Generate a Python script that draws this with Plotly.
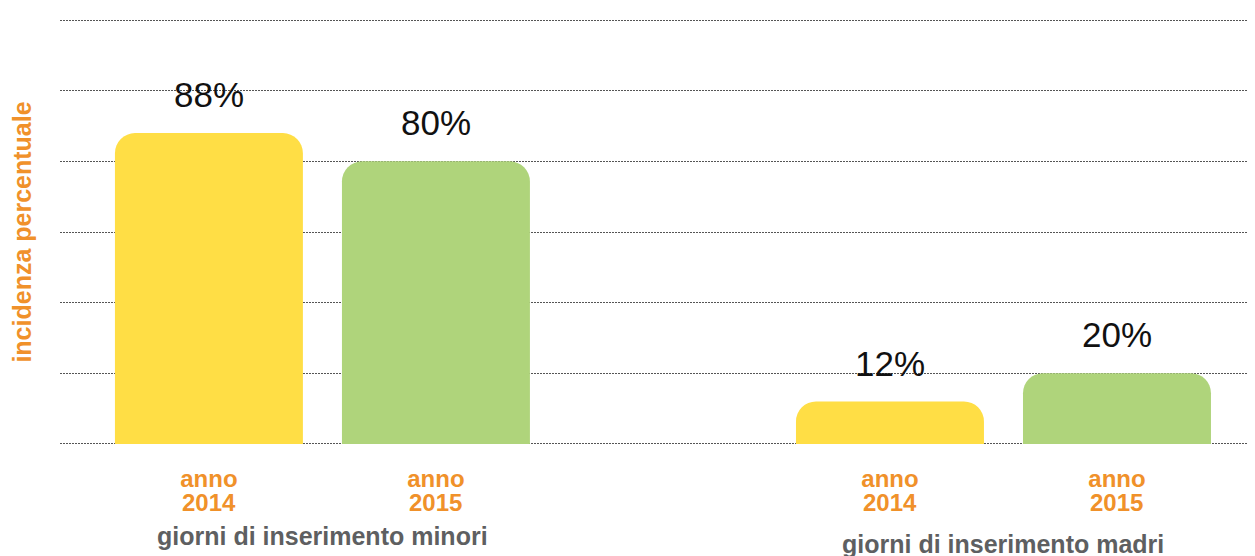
import plotly.graph_objects as go

# ---- data ----
groups = ["giorni di inserimento minori", "giorni di inserimento madri"]
years = ["2014", "2015"]
minori_values = [88, 80]
madri_values = [12, 20]
value_labels_minori = ["88%", "80%"]
value_labels_madri = ["12%", "20%"]
y_ticks = [0, 20, 40, 60, 80, 100, 120]

year_colors = {"2014": "#FFDE45", "2015": "#AFD47B"}
ORANGE = "#F0912A"
GREY = "#5E5F61"
FONT = "Liberation Sans, Arial, sans-serif"

# categories: two bars per group with an empty spacer slot between the groups
cats, vals, cols, labels, cat_year = [], [], [], [], []
for gi, (g, gv, gl) in enumerate(zip(groups, [minori_values, madri_values],
                                     [value_labels_minori, value_labels_madri])):
    if gi > 0:
        cats.append(" ")
        vals.append(None)
        cols.append("rgba(0,0,0,0)")
        labels.append("")
        cat_year.append("")
    for y, v, l in zip(years, gv, gl):
        cats.append(f"{g} {y}")
        vals.append(v)
        cols.append(year_colors[y])
        labels.append(l)
        cat_year.append(y)

tickvals = [c for c in cats if c.strip()]
ticktext = ["<b>anno</b>" for _ in tickvals]

fig = go.Figure()
fig.add_trace(go.Bar(
    x=cats, y=vals, marker=dict(color=cols, line=dict(width=0)),
    hoverinfo="skip", showlegend=False,
))

# value labels above bars
for c, v, l in zip(cats, vals, labels):
    if v is None:
        continue
    fig.add_annotation(x=c, y=v, text=l, showarrow=False, xref="x", yref="y",
                       yanchor="bottom", yshift=17,
                       font=dict(family=FONT, size=35, color="#111111"))

# year labels (second line of the category label)
for c, y in zip(cats, cat_year):
    if not y:
        continue
    fig.add_annotation(x=c, y=-0.133, xref="x", yref="paper", text=f"<b>{y}</b>",
                       showarrow=False, yanchor="middle",
                       font=dict(family=FONT, size=24, color=ORANGE))

# group labels
group_y = [-0.210, -0.228]
for gi, g in enumerate(groups):
    first = cats.index(f"{g} {years[0]}")
    fig.add_annotation(x=first + 0.5, y=group_y[gi], xref="x", yref="paper",
                       text=f"<b>{g}</b>", showarrow=False, yanchor="middle",
                       font=dict(family=FONT, size=25, color=GREY))

# the page body adds an 8px offset, so the figure is 8px smaller than the window
fig.update_layout(
    width=1247, height=548,
    margin=dict(l=52, r=0, t=10, b=110),
    paper_bgcolor="white", plot_bgcolor="white",
    bargap=0.172,
    barcornerradius=20,
    font=dict(family=FONT),
    xaxis=dict(
        type="category", categoryorder="array", categoryarray=cats,
        range=[-0.656, 4.608],
        tickmode="array", tickvals=tickvals, ticktext=ticktext,
        tickfont=dict(size=24, color=ORANGE, family=FONT),
        ticklabelstandoff=16,
        showgrid=False, zeroline=False, showline=False, ticks="",
        automargin=False, fixedrange=True,
    ),
    yaxis=dict(
        range=[-0.6, 120.6], tickmode="array", tickvals=y_ticks,
        showticklabels=False, ticks="",
        showgrid=True, gridcolor="#555555", gridwidth=1, griddash="2px,1px",
        zeroline=False, showline=False,
        layer="above traces",
        automargin=False, fixedrange=True,
        title=dict(text="<b>incidenza percentuale</b>", standoff=21,
                   font=dict(size=25, color=ORANGE, family=FONT)),
    ),
)

fig.write_html("out.html")
